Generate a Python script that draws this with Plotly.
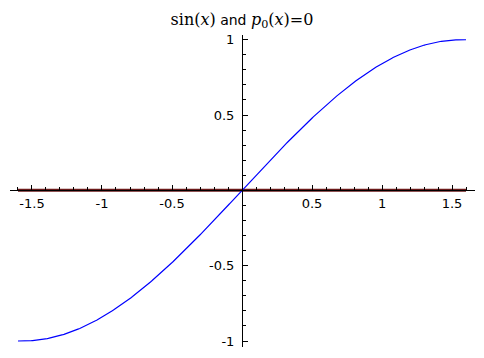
import numpy as np
import plotly.graph_objects as go

# data
x_vals = np.linspace(-1.6, 1.6, 400)
sin_vals = np.sin(x_vals)
p0_vals = np.zeros_like(x_vals)

x_ticks = [-1.5, -1, -0.5, 0.5, 1, 1.5]
x_tick_labels = ["-1.5", "-1", "-0.5", "0.5", "1", "1.5"]
y_ticks = [-1, -0.5, 0.5, 1]
y_tick_labels = ["-1", "-0.5", "0.5", "1"]

W, H = 484, 358
fig = go.Figure()
fig.add_trace(go.Scatter(x=x_vals, y=p0_vals, mode="lines",
                         line=dict(color="#6b1a1a", width=3), hoverinfo="skip"))
fig.add_trace(go.Scatter(x=x_vals, y=sin_vals, mode="lines",
                         line=dict(color="#0000ff", width=1.2), hoverinfo="skip"))

math = "font-family:'DejaVu Serif';font-size:16px"
title = (f"<span style=\"{math}\">sin(<i>x</i>)</span> and "
         f"<span style=\"{math}\"><i>p</i><sub>0</sub>(<i>x</i>)=0</span>")

fig.update_layout(
    width=W, height=H, margin=dict(l=0, r=0, t=0, b=0),
    paper_bgcolor="white", plot_bgcolor="white", showlegend=False,
    font=dict(family="DejaVu Sans", size=13, color="black"),
    title=dict(text=title, x=0.5, xanchor="center", y=1 - 20 / H, yanchor="middle",
               font=dict(size=14, family="DejaVu Sans", color="black")),
    xaxis=dict(domain=[10 / W, 475 / W], range=[-1.657, 1.664], anchor="free",
               position=(H - 190) / H, showline=True, linecolor="black", linewidth=1,
               showgrid=False, zeroline=False, ticks="inside", ticklen=5, tickwidth=1,
               tickcolor="black", tickvals=x_ticks, ticktext=x_tick_labels,
               ticklabelstandoff=1,
               minor=dict(dtick=0.1, tick0=0, ticks="inside", ticklen=3,
                          tickcolor="black", showgrid=False),
               fixedrange=True),
    yaxis=dict(domain=[(H - 348) / H, (H - 33) / H], range=[-1.04, 1.033], anchor="free",
               position=242 / W, showline=True, linecolor="black", linewidth=1,
               showgrid=False, zeroline=False, ticks="inside", ticklen=5, tickwidth=1,
               tickcolor="black", tickvals=y_ticks, ticktext=y_tick_labels,
               ticklabelstandoff=5,
               minor=dict(dtick=0.1, tick0=0, ticks="inside", ticklen=3,
                          tickcolor="black", showgrid=False),
               fixedrange=True),
)
fig.write_html("out.html")
